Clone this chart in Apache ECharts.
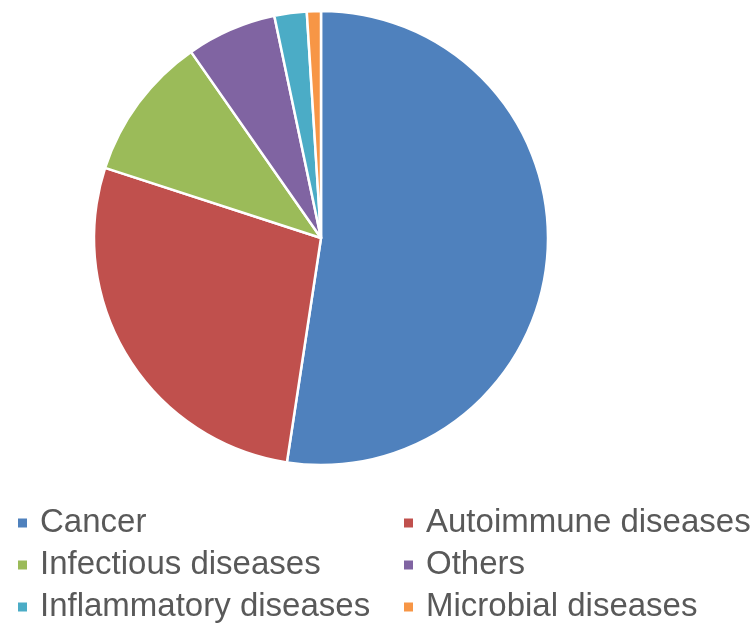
<!DOCTYPE html>
<html>
<head>
<meta charset="utf-8">
<script src="https://cdn.jsdelivr.net/npm/echarts@6/dist/echarts.min.js"></script>
<style>html,body{margin:0;padding:0;background:#fff}#c{width:754px;height:627px}</style>
</head>
<body>
<div id="c"></div>
<script>
const categories = ["Cancer", "Autoimmune diseases", "Infectious diseases", "Others", "Inflammatory diseases", "Microbial diseases"];
const values = [52.4, 27.6, 10.3, 6.4, 2.3, 1.0];
const colors = ["#4F81BD", "#C0504D", "#9BBB59", "#8064A2", "#4BACC6", "#F79646"];
const legendLeftColumn = ["Cancer", "Infectious diseases", "Inflammatory diseases"];
const legendRightColumn = ["Autoimmune diseases", "Others", "Microbial diseases"];

const chart = echarts.init(document.getElementById('c'), null, {renderer: 'canvas'});
const legendText = {
  fontFamily: "'Liberation Sans', Arial, sans-serif",
  fontSize: 33,
  color: '#595959',
  lineHeight: 36,
  padding: [0, 0, 0, 7]
};
function legendCol(left, data) {
  return {
    orient: 'vertical', left: left, top: 505, height: 122, width: 360, padding: 0, itemGap: 6,
    icon: 'rect', itemWidth: 11, itemHeight: 11,
    data: data, textStyle: legendText, selectedMode: false
  };
}
chart.setOption({
  animation: false,
  color: colors,
  legend: [legendCol(16, legendLeftColumn), legendCol(402, legendRightColumn)],
  series: [{
    type: 'pie',
    center: [321, 238],
    radius: [0, 227],
    startAngle: 90,
    clockwise: true,
    label: {show: false},
    labelLine: {show: false},
    itemStyle: {borderColor: '#fff', borderWidth: 2.5},
    emphasis: {disabled: true},
    data: categories.map((n, i) => ({name: n, value: values[i]}))
  }]
});
</script>
</body>
</html>
